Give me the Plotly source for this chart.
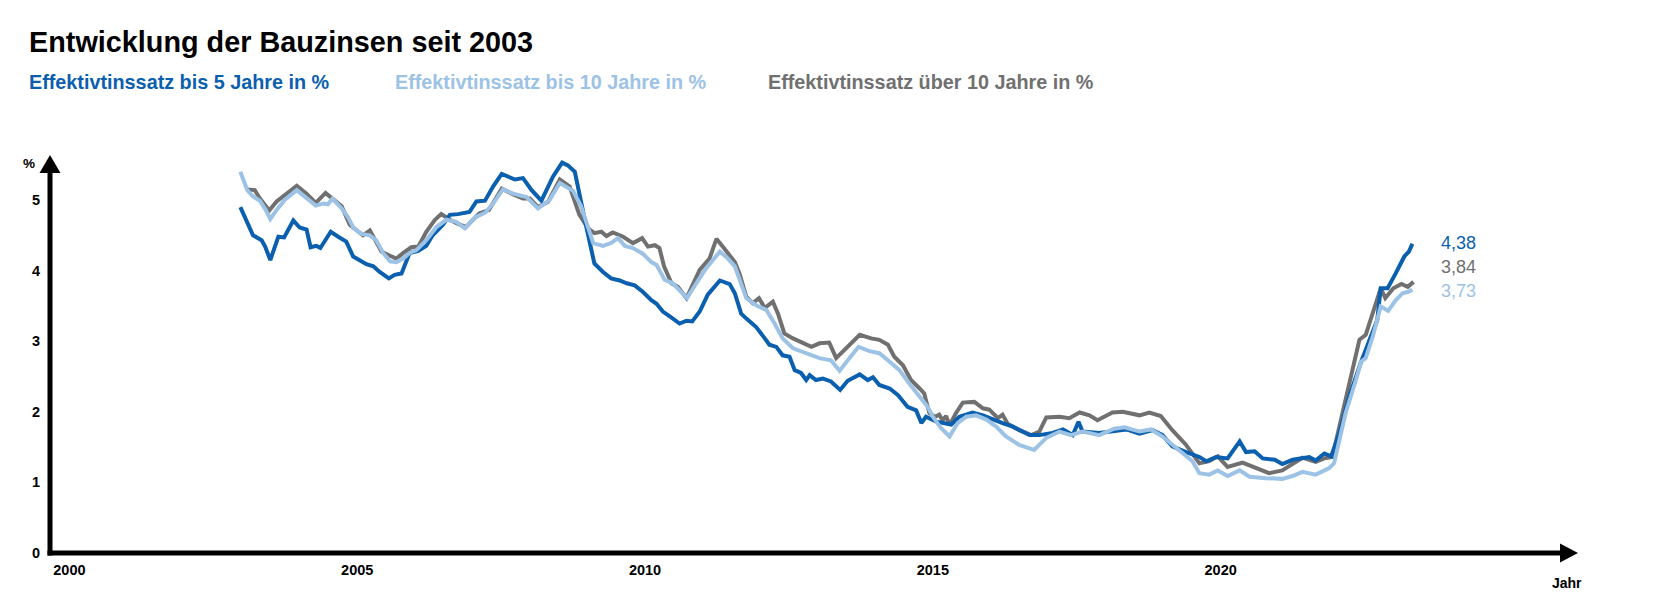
import plotly.graph_objects as go

# ---------------- data ----------------
blue_x = [2002.97, 2003.19, 2003.34, 2003.40, 2003.49, 2003.63, 2003.73, 2003.89, 2004.00, 2004.12,
          2004.19, 2004.29, 2004.36, 2004.54, 2004.67, 2004.81, 2004.93, 2005.02, 2005.16, 2005.28,
          2005.39, 2005.55, 2005.65, 2005.77, 2005.86, 2005.91, 2006.06, 2006.20, 2006.31, 2006.43,
          2006.49, 2006.61, 2006.75, 2006.95, 2007.07, 2007.22, 2007.36, 2007.51, 2007.74, 2007.88,
          2008.03, 2008.20, 2008.40, 2008.56, 2008.66, 2008.78, 2008.86, 2008.98, 2009.12, 2009.27,
          2009.41, 2009.56, 2009.68, 2009.82, 2009.96, 2010.11, 2010.20, 2010.31, 2010.43, 2010.60,
          2010.72, 2010.82, 2010.95, 2011.09, 2011.30, 2011.47, 2011.56, 2011.67, 2011.76, 2011.93,
          2012.08, 2012.16, 2012.28, 2012.39, 2012.51, 2012.60, 2012.71, 2012.80, 2012.86, 2012.97,
          2013.09, 2013.23, 2013.39, 2013.52, 2013.73, 2013.87, 2013.96, 2014.07, 2014.25, 2014.39,
          2014.56, 2014.71, 2014.80, 2014.88, 2015.06, 2015.20, 2015.32, 2015.46, 2015.69, 2015.87,
          2016.04, 2016.21, 2016.39, 2016.68, 2016.85, 2017.08, 2017.26, 2017.43, 2017.53, 2017.60,
          2017.89, 2018.12, 2018.36, 2018.59, 2018.82, 2018.99, 2019.16, 2019.40, 2019.63, 2019.75,
          2019.92, 2020.12, 2020.33, 2020.44, 2020.59, 2020.73, 2020.94, 2021.07, 2021.25, 2021.54,
          2021.65, 2021.80, 2021.92, 2022.06, 2022.23, 2022.44, 2022.64, 2022.72, 2022.78, 2022.90,
          2023.04, 2023.19, 2023.27, 2023.33]
blue_y = [4.90, 4.50, 4.43, 4.34, 4.15, 4.48, 4.47, 4.71, 4.61, 4.58,
          4.33, 4.35, 4.32, 4.55, 4.48, 4.41, 4.20, 4.16, 4.09, 4.06,
          3.98, 3.89, 3.94, 3.96, 4.17, 4.25, 4.28, 4.35, 4.50, 4.61,
          4.65, 4.79, 4.80, 4.83, 4.98, 4.99, 5.19, 5.37, 5.29, 5.31,
          5.14, 4.99, 5.33, 5.53, 5.49, 5.40, 5.07, 4.62, 4.10, 3.98,
          3.89, 3.86, 3.82, 3.79, 3.70, 3.58, 3.53, 3.42, 3.35, 3.25,
          3.29, 3.28, 3.42, 3.66, 3.86, 3.81, 3.68, 3.39, 3.32, 3.20,
          3.04, 2.95, 2.92, 2.80, 2.78, 2.59, 2.55, 2.45, 2.52, 2.45,
          2.47, 2.43, 2.31, 2.44, 2.53, 2.45, 2.49, 2.38, 2.33, 2.24,
          2.07, 2.02, 1.84, 1.93, 1.86, 1.84, 1.82, 1.93, 1.99, 1.95,
          1.89, 1.84, 1.79, 1.67, 1.67, 1.70, 1.75, 1.67, 1.86, 1.72,
          1.70, 1.73, 1.75, 1.69, 1.74, 1.67, 1.51, 1.43, 1.36, 1.30,
          1.36, 1.34, 1.58, 1.43, 1.44, 1.34, 1.32, 1.26, 1.32, 1.36,
          1.31, 1.41, 1.37, 1.69, 2.21, 2.71, 3.11, 3.30, 3.75, 3.75,
          3.96, 4.20, 4.27, 4.38]

light_x = [2002.97, 2003.09, 2003.19, 2003.31, 2003.41, 2003.49, 2003.60, 2003.74, 2003.95, 2004.12,
           2004.28, 2004.41, 2004.49, 2004.57, 2004.73, 2004.84, 2004.93, 2005.07, 2005.22, 2005.33,
           2005.45, 2005.57, 2005.68, 2005.80, 2005.91, 2006.03, 2006.20, 2006.38, 2006.55, 2006.72,
           2006.87, 2007.04, 2007.22, 2007.36, 2007.53, 2007.71, 2007.94, 2008.14, 2008.34, 2008.52,
           2008.75, 2008.89, 2009.10, 2009.27, 2009.41, 2009.53, 2009.65, 2009.79, 2009.96, 2010.11,
           2010.20, 2010.34, 2010.48, 2010.60, 2010.73, 2010.89, 2011.06, 2011.30, 2011.44, 2011.56,
           2011.64, 2011.76, 2011.93, 2012.11, 2012.25, 2012.39, 2012.57, 2012.80, 2013.03, 2013.23,
           2013.38, 2013.55, 2013.71, 2013.90, 2014.07, 2014.25, 2014.42, 2014.59, 2014.77, 2014.91,
           2015.00, 2015.14, 2015.29, 2015.43, 2015.58, 2015.75, 2015.93, 2016.10, 2016.27, 2016.50,
           2016.76, 2016.97, 2017.20, 2017.40, 2017.60, 2017.89, 2018.15, 2018.33, 2018.59, 2018.79,
           2018.99, 2019.28, 2019.51, 2019.63, 2019.80, 2019.95, 2020.12, 2020.33, 2020.50, 2020.79,
           2021.07, 2021.25, 2021.42, 2021.65, 2021.88, 2021.97, 2022.17, 2022.35, 2022.44, 2022.52,
           2022.64, 2022.78, 2022.91, 2023.04, 2023.16, 2023.26, 2023.33]
light_y = [5.40, 5.14, 5.05, 4.99, 4.86, 4.73, 4.86, 5.00, 5.14, 5.02,
           4.92, 4.95, 4.94, 5.02, 4.88, 4.76, 4.61, 4.52, 4.50, 4.43,
           4.25, 4.13, 4.12, 4.17, 4.25, 4.29, 4.43, 4.62, 4.72, 4.69,
           4.60, 4.75, 4.82, 4.95, 5.15, 5.09, 5.04, 4.88, 5.00, 5.24,
           5.13, 4.91, 4.39, 4.35, 4.39, 4.46, 4.35, 4.32, 4.24, 4.12,
           4.08, 3.87, 3.82, 3.72, 3.61, 3.82, 4.03, 4.27, 4.17, 4.06,
           3.87, 3.61, 3.51, 3.44, 3.25, 3.04, 2.90, 2.83, 2.76, 2.73,
           2.58, 2.76, 2.92, 2.86, 2.83, 2.71, 2.59, 2.40, 2.21, 2.07,
           1.93, 1.77, 1.65, 1.84, 1.93, 1.95, 1.89, 1.79, 1.65, 1.53,
           1.46, 1.63, 1.72, 1.67, 1.72, 1.67, 1.76, 1.78, 1.72, 1.75,
           1.65, 1.46, 1.30, 1.13, 1.11, 1.17, 1.09, 1.17, 1.08, 1.06,
           1.05, 1.09, 1.15, 1.11, 1.20, 1.27, 1.98, 2.45, 2.71, 2.76,
           3.06, 3.49, 3.43, 3.58, 3.68, 3.70, 3.73]

gray_x = [2003.09, 2003.22, 2003.31, 2003.47, 2003.60, 2003.77, 2003.95, 2004.12, 2004.28, 2004.45,
          2004.58, 2004.73, 2004.87, 2004.99, 2005.10, 2005.22, 2005.31, 2005.42, 2005.57, 2005.68,
          2005.80, 2005.94, 2006.06, 2006.20, 2006.35, 2006.46, 2006.61, 2006.75, 2006.89, 2007.12,
          2007.29, 2007.51, 2007.71, 2007.88, 2008.00, 2008.14, 2008.31, 2008.52, 2008.69, 2008.86,
          2009.01, 2009.12, 2009.24, 2009.33, 2009.44, 2009.62, 2009.79, 2009.95, 2010.05, 2010.17,
          2010.25, 2010.33, 2010.46, 2010.57, 2010.72, 2010.95, 2011.12, 2011.24, 2011.38, 2011.56,
          2011.64, 2011.76, 2011.87, 2011.98, 2012.08, 2012.22, 2012.31, 2012.42, 2012.57, 2012.74,
          2012.89, 2013.03, 2013.20, 2013.32, 2013.55, 2013.73, 2013.93, 2014.07, 2014.22, 2014.33,
          2014.48, 2014.62, 2014.77, 2014.85, 2014.94, 2015.04, 2015.11, 2015.17, 2015.23, 2015.29,
          2015.40, 2015.52, 2015.72, 2015.87, 2015.98, 2016.13, 2016.21, 2016.30, 2016.50, 2016.71,
          2016.85, 2016.97, 2017.20, 2017.37, 2017.55, 2017.72, 2017.86, 2018.12, 2018.30, 2018.59,
          2018.76, 2018.96, 2019.16, 2019.40, 2019.63, 2019.80, 2019.95, 2020.12, 2020.38, 2020.61,
          2020.84, 2021.07, 2021.25, 2021.42, 2021.65, 2021.80, 2021.94, 2022.17, 2022.41, 2022.52,
          2022.64, 2022.78, 2022.86, 2023.00, 2023.14, 2023.25, 2023.35]
gray_y = [5.15, 5.14, 5.02, 4.85, 4.98, 5.09, 5.20, 5.09, 4.96, 5.10,
          5.01, 4.91, 4.65, 4.58, 4.50, 4.57, 4.43, 4.27, 4.21, 4.17,
          4.25, 4.33, 4.34, 4.55, 4.72, 4.80, 4.72, 4.66, 4.62, 4.81,
          4.86, 5.16, 5.08, 5.02, 5.02, 4.90, 4.97, 5.29, 5.19, 4.79,
          4.60, 4.53, 4.55, 4.49, 4.54, 4.48, 4.39, 4.46, 4.34, 4.36,
          4.32, 4.06, 3.82, 3.77, 3.61, 4.01, 4.17, 4.45, 4.31, 4.12,
          3.96, 3.63, 3.54, 3.61, 3.47, 3.56, 3.39, 3.11, 3.04, 2.98,
          2.92, 2.97, 2.98, 2.76, 2.95, 3.09, 3.04, 3.02, 2.95, 2.78,
          2.66, 2.45, 2.33, 2.26, 1.98, 1.93, 1.96, 1.88, 1.94, 1.81,
          1.98, 2.13, 2.14, 2.05, 2.03, 1.91, 1.96, 1.83, 1.74, 1.67,
          1.72, 1.92, 1.93, 1.91, 1.99, 1.95, 1.88, 1.99, 2.00, 1.95,
          1.99, 1.94, 1.74, 1.53, 1.27, 1.30, 1.37, 1.22, 1.28, 1.20,
          1.13, 1.17, 1.27, 1.35, 1.29, 1.34, 1.36, 2.17, 3.02, 3.09,
          3.39, 3.75, 3.61, 3.75, 3.81, 3.77, 3.84]

series_names = ["Effektivtinssatz bis 5 Jahre in %",
                "Effektivtinssatz bis 10 Jahre in %",
                "Effektivtinssatz über 10 Jahre in %"]
x_tick_vals = [2000, 2005, 2010, 2015, 2020]
y_tick_vals = [0, 1, 2, 3, 4, 5]

# ---------------- styling ----------------
C_BLUE = "#0a5fae"
C_LIGHT = "#9cc2e5"
C_GRAY = "#707070"
FONT = "Liberation Sans, Arial, Helvetica, sans-serif"

W, H = 1668, 615
AX_X, AX_Y = 41.5, 545            # pixel position of the axis corner
L, T = AX_X, AX_Y - 396
PW, PH = 1528, 396
R, B = W - L - PW, H - AX_Y
X_RANGE = [1999.663, 2026.19]
Y_RANGE = [0, 5.609]


def px(xp):
    return (xp - L) / PW


def py(yp):
    return (H - B - yp) / PH


fig = go.Figure()
for xs, ys, col, name in [(gray_x, gray_y, C_GRAY, series_names[2]),
                          (blue_x, blue_y, C_BLUE, series_names[0]),
                          (light_x, light_y, C_LIGHT, series_names[1])]:
    fig.add_trace(go.Scatter(x=xs, y=ys, mode="lines", name=name,
                             line=dict(color=col, width=4), hoverinfo="skip"))

ann = []
# legend as coloured text
for name, col, xp in [(series_names[0], C_BLUE, 18),
                      (series_names[1], C_LIGHT, 385),
                      (series_names[2], C_GRAY, 758)]:
    ann.append(dict(text=f"<b>{name}</b>", x=px(xp), y=py(74), xref="paper", yref="paper",
                    xanchor="left", yanchor="middle", showarrow=False,
                    font=dict(family=FONT, size=19.8, color=col)))

# end value labels
for val, col, yp in [(blue_y[-1], C_BLUE, 235), (gray_y[-1], C_GRAY, 259), (light_y[-1], C_LIGHT, 283)]:
    ann.append(dict(text=f"{val:.2f}".replace(".", ","), x=px(1431), y=py(yp),
                    xref="paper", yref="paper", xanchor="left", yanchor="middle",
                    showarrow=False, font=dict(family=FONT, size=18, color=col)))

# axis captions
ann.append(dict(text="<b>%</b>", x=px(20), y=py(156), xref="paper", yref="paper",
                xanchor="center", yanchor="middle", showarrow=False,
                font=dict(family=FONT, size=13.5, color="#000")))
ann.append(dict(text="<b>Jahr</b>", x=px(1559), y=py(575), xref="paper", yref="paper",
                xanchor="center", yanchor="middle", showarrow=False,
                font=dict(family=FONT, size=14, color="#000")))

top = AX_Y - 397
shapes = [
    # y axis line + arrow
    dict(type="line", xref="paper", yref="paper", x0=px(AX_X), x1=px(AX_X), y0=py(AX_Y + 2.5), y1=py(top + 13),
         line=dict(color="#000", width=5)),
    dict(type="path", xref="paper", yref="paper",
         path=f"M {px(AX_X - 10.5)} {py(top + 17)} L {px(AX_X)} {py(top - 1)} L {px(AX_X + 10.5)} {py(top + 17)} Z",
         fillcolor="#000", line=dict(color="#000", width=0)),
    # x axis line + arrow
    dict(type="line", xref="paper", yref="paper", x0=px(AX_X - 2.5), x1=px(AX_X + 1515), y0=py(AX_Y), y1=py(AX_Y),
         line=dict(color="#000", width=5)),
    dict(type="path", xref="paper", yref="paper",
         path=f"M {px(AX_X + 1511)} {py(AX_Y - 9.5)} L {px(AX_X + 1529)} {py(AX_Y)} L {px(AX_X + 1511)} {py(AX_Y + 9.5)} Z",
         fillcolor="#000", line=dict(color="#000", width=0)),
]

fig.update_layout(
    width=W, height=H,
    margin=dict(l=L, r=R, t=T, b=B, pad=0),
    paper_bgcolor="white", plot_bgcolor="white",
    showlegend=False,
    font=dict(family=FONT, color="#000"),
    title=dict(text="<b>Entwicklung der Bauzinsen seit 2003</b>", x=21 / W, y=1 - 34 / H,
               xref="container", yref="container", xanchor="left", yanchor="middle",
               font=dict(family=FONT, size=28.8, color="#000")),
    xaxis=dict(range=X_RANGE, showgrid=False, zeroline=False, showline=False,
               tickvals=x_tick_vals, ticktext=[f"<b>{v}</b>" for v in x_tick_vals],
               ticks="", ticklabelstandoff=6,
               tickfont=dict(family=FONT, size=14.5, color="#000"), fixedrange=True),
    yaxis=dict(range=Y_RANGE, showgrid=False, zeroline=False, showline=False,
               tickvals=y_tick_vals, ticktext=[f"<b>{v}</b>" for v in y_tick_vals],
               ticks="", ticklabelstandoff=9,
               tickfont=dict(family=FONT, size=14.5, color="#000"), fixedrange=True),
    annotations=ann,
    shapes=shapes,
)

fig.write_html("out.html")
